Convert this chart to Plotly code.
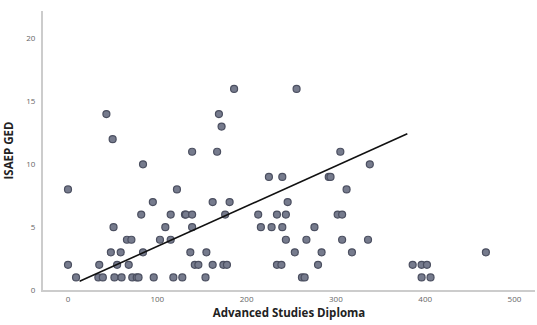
import plotly.graph_objects as go

# Scatter data (Advanced Studies Diploma vs ISAEP GED)
diploma = [0, 0, 9, 35, 34, 39, 48, 51, 52, 55, 59, 60, 66, 71, 68, 72, 77, 79,
           82, 84, 84, 95, 96, 103, 109, 115, 115, 118, 122, 128, 131, 132, 139,
           139, 137, 142, 146, 139, 155, 154, 162, 162, 167, 174, 178, 176, 181,
           43, 50, 169, 172, 186,
           213, 216, 225, 256, 305, 338, 240, 292, 294, 312, 246, 234, 244, 302,
           307, 228, 240, 276, 244, 267, 307, 336, 254, 284, 318, 468, 234, 239,
           280, 386, 396, 402, 262, 265, 396, 406]
ged = [8, 2, 1, 2, 1, 1, 3, 5, 1, 2, 3, 1, 4, 4, 2, 1, 1, 1,
       6, 10, 3, 7, 1, 4, 5, 6, 4, 1, 8, 1, 6, 6, 6,
       5, 3, 2, 2, 11, 3, 1, 2, 7, 11, 2, 2, 6, 7,
       14, 12, 14, 13, 16,
       6, 5, 9, 16, 11, 10, 9, 9, 9, 8, 7, 6, 6, 6,
       6, 5, 5, 5, 4, 4, 4, 4, 3, 3, 3, 3, 2, 2,
       2, 2, 2, 2, 1, 1, 1, 1]

# Fit line endpoints as drawn in the reference
fit_x = [13, 380]
fit_y = [0.69, 12.43]

x_ticks = [0, 100, 200, 300, 400, 500]
y_ticks = [0, 5, 10, 15, 20]

fig = go.Figure()
fig.add_trace(go.Scatter(
    x=diploma, y=ged, mode="markers",
    marker=dict(size=7, color="#767b8d", line=dict(color="#4b4f60", width=1.2)),
    showlegend=False, hoverinfo="skip"))
fig.add_trace(go.Scatter(
    x=fit_x, y=fit_y, mode="lines",
    line=dict(color="#111111", width=1.6),
    showlegend=False, hoverinfo="skip"))

fig.update_layout(
    width=537, height=325,
    margin=dict(l=43, r=2, t=11, b=35),
    paper_bgcolor="white", plot_bgcolor="white",
    font=dict(family="Open Sans, DejaVu Sans, sans-serif", color="#555555"),
    xaxis=dict(
        range=[-28, 523], tickvals=x_ticks, ticks="", showgrid=False, zeroline=False,
        showline=True, linecolor="#cccccc", linewidth=2,
        tickfont=dict(size=8, color="#666666"),
        title=dict(text="<b>Advanced Studies Diploma</b>", standoff=6,
                   font=dict(size=11.5, color="#222222"))),
    yaxis=dict(
        range=[0, 22.2], tickvals=y_ticks, ticks="", showgrid=False, zeroline=False,
        showline=True, linecolor="#cccccc", linewidth=2,
        tickfont=dict(size=8, color="#666666"), ticklabelstandoff=4,
        title=dict(text="<b>ISAEP GED</b>", standoff=10,
                   font=dict(size=11.5, color="#222222"))),
)

fig.write_html("out.html", config={"displayModeBar": False, "staticPlot": True})

# remove the default browser body margin so the figure sits at the page origin
with open("out.html", "r", encoding="utf-8") as f:
    html = f.read()
html = html.replace("<head>", "<head><style>html,body{margin:0;padding:0;overflow:hidden}</style>", 1)
with open("out.html", "w", encoding="utf-8") as f:
    f.write(html)
